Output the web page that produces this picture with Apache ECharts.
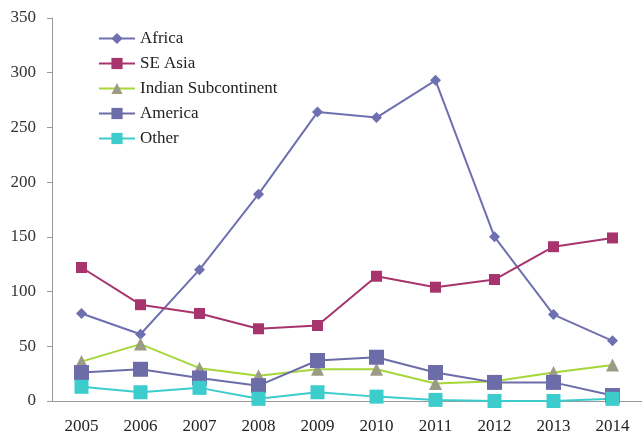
<!DOCTYPE html>
<html><head><meta charset="utf-8">
<script src="https://cdn.jsdelivr.net/npm/echarts@6/dist/echarts.min.js"></script>
<style>html,body{margin:0;padding:0;background:#fff}#c{width:642px;height:435px}</style>
</head><body><div id="c"></div>
<script>
var years = ['2005','2006','2007','2008','2009','2010','2011','2012','2013','2014'];
var africa = [80, 61, 120, 189, 264, 259, 293, 150, 79, 55];
var seAsia = [122, 88, 80, 66, 69, 114, 104, 111, 141, 149];
var indian = [36, 52, 30, 23, 29, 29, 16, 18, 26, 33];
var america = [26, 29, 21, 14, 37, 40, 26, 17, 17, 5];
var other = [13, 8, 12, 2, 8, 4, 1, 0, 0, 2];
var yTicks = [0, 50, 100, 150, 200, 250, 300, 350];

var font = 'Liberation Serif';
function s(name, data, color, symbol, size, symColor) {
  return {
    name: name, type: 'line', data: data, symbol: symbol, symbolSize: size,
    lineStyle: {color: color, width: 2},
    itemStyle: {color: symColor || color},
    z: 2
  };
}
var chart = echarts.init(document.getElementById('c'));
chart.setOption({
  animation: false,
  textStyle: {fontFamily: font},
  grid: {left: 52, right: -7, top: 18, bottom: 33},
  legend: {
    orient: 'vertical', left: 93, top: 25, itemGap: 8, itemWidth: 36, itemHeight: 14,
    textStyle: {fontFamily: font, fontSize: 17, color: '#222'},
    data: ['Africa','SE Asia','Indian Subcontinent','America','Other']
  },
  xAxis: {
    type: 'category', data: years, boundaryGap: true,
    axisLine: {lineStyle: {color: '#999'}},
    axisTick: {show: false},
    axisLabel: {fontFamily: font, fontSize: 17, color: '#222', margin: 17}
  },
  yAxis: {
    type: 'value', min: yTicks[0], max: yTicks[yTicks.length-1], interval: 50,
    axisLine: {show: true, lineStyle: {color: '#999'}},
    axisTick: {show: true, length: 5, lineStyle: {color: '#999'}},
    splitLine: {show: false},
    axisLabel: {fontFamily: font, fontSize: 17, color: '#333', margin: 16}
  },
  series: [
    s('Africa', africa, '#6f70b0', 'diamond', 11),
    s('SE Asia', seAsia, '#a8346e', 'rect', 11),
    s('Indian Subcontinent', indian, '#a5d63a', 'triangle', 13, '#9c9c86'),
    s('America', america, '#6c6ca8', 'rect', 15),
    s('Other', other, '#3ccccc', 'rect', 14)
  ]
});
</script></body></html>
